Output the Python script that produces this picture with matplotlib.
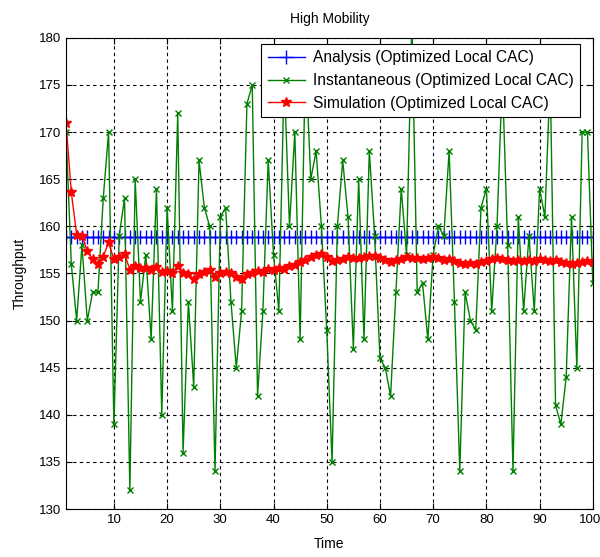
import matplotlib.pyplot as plt
from matplotlib.transforms import ScaledTranslation

# Datos
tiempo = list(range(1, 101))

analisis = [158.9] * 100

instantaneo = [170, 156, 150, 158, 150, 153, 153, 163, 170, 139,
               159, 163, 132, 165, 152, 157, 148, 164, 140, 162,
               151, 172, 136, 152, 143, 167, 162, 160, 134, 161,
               162, 152, 145, 151, 173, 175, 142, 151, 167, 157,
               151, 176, 160, 170, 148, 178, 165, 168, 160, 149,
               135, 160, 167, 161, 147, 165, 148, 168, 159, 146,
               145, 142, 153, 164, 157, 182, 153, 154, 148, 157,
               160, 159, 168, 152, 134, 153, 150, 149, 162, 164,
               151, 160, 176, 158, 134, 161, 151, 159, 151, 164,
               161, 176, 141, 139, 144, 161, 145, 170, 170, 154]

simulacion = [171.0, 163.6, 159.1, 159.0, 157.4, 156.5, 156.0, 156.8, 158.3, 156.5,
              156.7, 157.1, 155.4, 155.8, 155.6, 155.6, 155.4, 155.7, 155.2, 155.3,
              155.1, 155.8, 155.0, 154.9, 154.4, 154.9, 155.2, 155.4, 154.6, 155.0,
              155.2, 155.0, 154.6, 154.4, 154.9, 155.0, 155.3, 155.2, 155.5, 155.4,
              155.6, 155.5, 155.8, 155.9, 156.2, 156.4, 156.8, 157.0, 157.1, 156.7,
              156.3, 156.4, 156.5, 156.7, 156.6, 156.6, 156.7, 156.9, 156.9, 156.6,
              156.4, 156.2, 156.4, 156.5, 156.7, 156.6, 156.6, 156.5, 156.6, 156.7,
              156.6, 156.4, 156.5, 156.3, 156.1, 156.0, 156.1, 156.0, 156.2, 156.3,
              156.5, 156.6, 156.5, 156.4, 156.3, 156.4, 156.3, 156.4, 156.3, 156.5,
              156.4, 156.3, 156.4, 156.2, 156.1, 156.0, 156.1, 156.2, 156.3, 156.2]

plt.rcParams['font.family'] = ['Liberation Sans', 'DejaVu Sans']

fig = plt.figure(figsize=(6, 5.57), dpi=100)
ax = fig.add_axes([0.11, 0.086, 0.878, 0.846])

ax.plot(tiempo, analisis, color='blue', marker='+', markersize=10, linewidth=1,
        label='Analysis (Optimized Local CAC)')
ax.plot(tiempo, instantaneo, color='#008000', marker='x', markersize=5, linewidth=1,
        label='Instantaneous (Optimized Local CAC)')
ax.plot(tiempo, simulacion, color='red', marker='*', markersize=7, linewidth=1,
        label='Simulation (Optimized Local CAC)')

ax.set_xlim(1, 100)
ax.set_ylim(130, 180)
ax.set_xticks(range(10, 101, 10))
ax.set_yticks(range(130, 181, 5))
ax.tick_params(direction='in', top=True, right=True, labelsize=9.5, length=4)
ax.grid(True, color='black', linestyle=(0, (3, 3)), linewidth=0.8)

# el "100" queda pegado al borde; se corre un poco a la izquierda
ultimo = ax.xaxis.get_major_ticks()[-1].label1
ultimo.set_transform(ultimo.get_transform() + ScaledTranslation(-3 / 100, 0, fig.dpi_scale_trans))

ax.set_xlabel('Time', fontsize=10, labelpad=8)
ax.set_ylabel('Throughput', fontsize=10, labelpad=9)
ax.set_title('High Mobility', fontsize=10, pad=11)

leg = ax.legend(loc='upper right', fontsize=11.2, fancybox=False, framealpha=1,
                edgecolor='black', borderaxespad=0, handlelength=2.4,
                labelspacing=0.5, borderpad=0.4, handletextpad=0.5,
                bbox_to_anchor=(0.975, 0.987))
leg.get_frame().set_linewidth(0.8)

plt.savefig('out.png')
